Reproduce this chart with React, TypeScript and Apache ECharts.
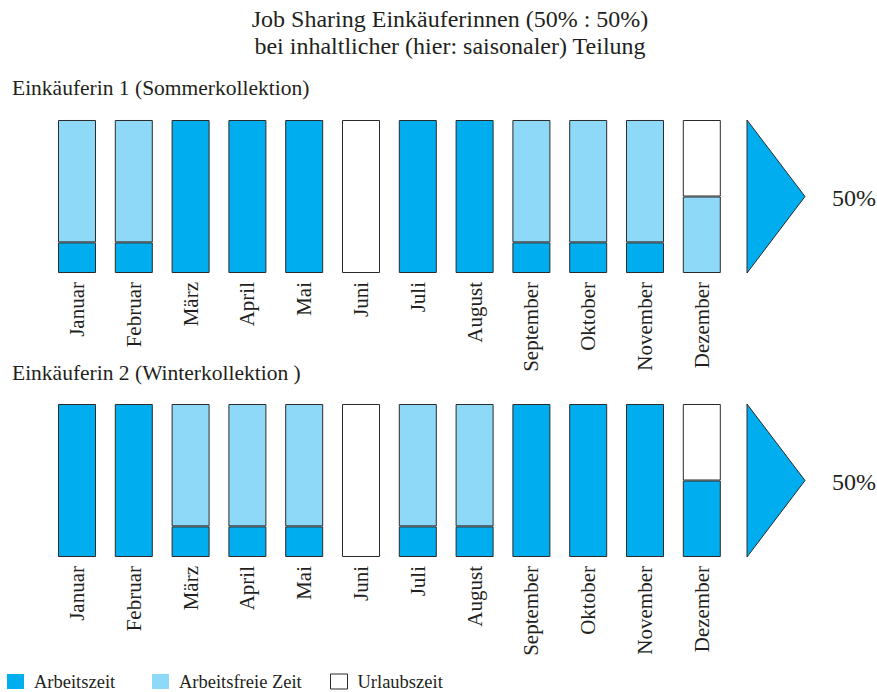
import React, { useEffect, useRef } from "react";
import * as echarts from "echarts";

const months = [
  "Januar", "Februar", "März", "April", "Mai", "Juni",
  "Juli", "August", "September", "Oktober", "November", "Dezember",
];

// Einkäuferin 1 (Sommerkollektion), Anteil in %
const summerWork = [20, 20, 100, 100, 100, 0, 100, 100, 20, 20, 20, 0];
const summerFree = [80, 80, 0, 0, 0, 0, 0, 0, 80, 80, 80, 50];
const summerVacation = [0, 0, 0, 0, 0, 100, 0, 0, 0, 0, 0, 50];

// Einkäuferin 2 (Winterkollektion), Anteil in %
const winterWork = [100, 100, 20, 20, 20, 0, 20, 20, 100, 100, 100, 50];
const winterFree = [0, 0, 80, 80, 80, 0, 80, 80, 0, 0, 0, 0];
const winterVacation = [0, 0, 0, 0, 0, 100, 0, 0, 0, 0, 0, 50];

const shareLabels = ["50%", "50%"];

const titleText = "Job Sharing Einkäuferinnen (50% : 50%)\nbei inhaltlicher (hier: saisonaler) Teilung";
const panelTitles = ["Einkäuferin 1 (Sommerkollektion)", "Einkäuferin 2 (Winterkollektion )"];
const seriesNames = ["Arbeitszeit", "Arbeitsfreie Zeit", "Urlaubszeit"];

const DARK = "#00AEEF";
const LIGHT = "#8ED8F8";
const WHITE = "#FFFFFF";
const BORDER = "#2B2B2B";
const TEXT = "#231F20";
const FONT = "'Liberation Serif', 'Times New Roman', serif";

const nz = (arr: number[]) => arr.map((v) => (v === 0 ? null : v));

export default function App() {
  const ref = useRef<HTMLDivElement>(null);

  useEffect(() => {
    if (!ref.current) return;
    const chart = echarts.init(ref.current, undefined, { renderer: "svg" });

    const grids = [
      { left: 48.6, width: 681.6, top: 120, height: 153 },
      { left: 48.6, width: 681.6, top: 404, height: 153 },
    ];

    const colors = [DARK, LIGHT, WHITE];
    const panels = [
      [summerWork, summerFree, summerVacation],
      [winterWork, winterFree, winterVacation],
    ];

    const series: any[] = [];
    panels.forEach((panel, gi) => {
      panel.forEach((vals, si) => {
        series.push({
          type: "bar",
          name: seriesNames[si],
          xAxisIndex: gi,
          yAxisIndex: gi,
          stack: "s" + gi,
          barWidth: 38,
          data: nz(vals),
          itemStyle: { color: colors[si], borderColor: BORDER, borderWidth: 1 },
          emphasis: { disabled: true },
        });
      });
    });

    const graphics: any[] = [];
    grids.forEach((g, gi) => {
      const x0 = 747;
      const y0 = g.top;
      const y1 = g.top + g.height;
      graphics.push({
        type: "polygon",
        shape: { points: [[x0, y0], [805, (y0 + y1) / 2], [x0, y1]] },
        style: { fill: DARK, stroke: BORDER, lineWidth: 1 },
      });
      graphics.push({
        type: "text",
        x: 832,
        y: (y0 + y1) / 2 + 1,
        style: {
          text: shareLabels[gi],
          fill: TEXT,
          font: `24px ${FONT}`,
          textVerticalAlign: "middle",
        },
      });
      graphics.push({
        type: "text",
        x: 12,
        y: gi === 0 ? 88 : 373,
        style: {
          text: panelTitles[gi],
          fill: TEXT,
          font: `21.5px ${FONT}`,
          textVerticalAlign: "middle",
        },
      });
    });

    const legendLefts = [7, 152, 330];
    const legendStyles = [
      { borderWidth: 0 },
      { borderWidth: 0 },
      { borderColor: BORDER, borderWidth: 1 },
    ];

    chart.setOption({
      animation: false,
      backgroundColor: "#FFFFFF",
      title: {
        text: titleText,
        left: 445,
        top: 0,
        textAlign: "center",
        textStyle: {
          fontFamily: FONT,
          fontWeight: "normal",
          fontSize: 24,
          lineHeight: 27,
          color: TEXT,
        },
      },
      legend: seriesNames.map((name, i) => ({
        left: legendLefts[i],
        top: 672,
        padding: 0,
        itemWidth: 17,
        itemHeight: 15,
        icon: "rect",
        selectedMode: false,
        data: [{ name, itemStyle: legendStyles[i] }],
        textStyle: {
          fontFamily: FONT,
          fontSize: 18.5,
          color: TEXT,
          padding: [6, 0, 0, 5],
        },
      })),
      grid: grids,
      xAxis: grids.map((_, gi) => ({
        type: "category",
        gridIndex: gi,
        data: months,
        axisLine: { show: false },
        axisTick: { show: false },
        axisLabel: {
          rotate: 90,
          margin: 9,
          interval: 0,
          fontFamily: FONT,
          fontSize: 21,
          color: TEXT,
        },
      })),
      yAxis: grids.map((_, gi) => ({
        type: "value",
        gridIndex: gi,
        min: 0,
        max: 100,
        show: false,
      })),
      series,
      graphic: graphics,
    });

    return () => chart.dispose();
  }, []);

  return (
    <div
      ref={ref}
      style={{ position: "absolute", left: 0, top: 0, width: 877, height: 692 }}
    />
  );
}
